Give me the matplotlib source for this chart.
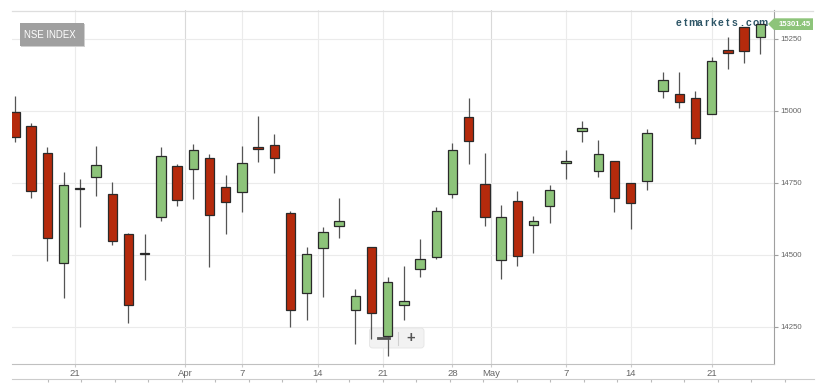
import numpy as np
import matplotlib
matplotlib.use("Agg")
import matplotlib.pyplot as plt
from matplotlib.patches import FancyBboxPatch, Polygon, Rectangle
from matplotlib.transforms import IdentityTransform

plt.rcParams['font.family'] = ['Liberation Sans', 'DejaVu Sans']

### NSE index daily candles (Mar 16 - May 26) ###
dates = ['Mar16', 'Mar17', 'Mar18', 'Mar19', 'Mar22', 'Mar23', 'Mar24', 'Mar25', 'Mar26', 'Mar30',
         'Mar31', 'Apr01', 'Apr05', 'Apr06', 'Apr07', 'Apr08', 'Apr09', 'Apr12', 'Apr13', 'Apr15',
         'Apr16', 'Apr19', 'Apr20', 'Apr22', 'Apr23', 'Apr26', 'Apr27', 'Apr28', 'Apr29', 'Apr30',
         'May03', 'May04', 'May05', 'May06', 'May07', 'May10', 'May11', 'May12', 'May14', 'May17',
         'May18', 'May19', 'May20', 'May21', 'May24', 'May25', 'May26']
opens = [14995, 14947, 14855, 14471, 14729, 14770, 14713, 14572, 14502, 14631,
         14810, 14800, 14838, 14735, 14719, 14874, 14882, 14645, 14367, 14524,
         14600, 14308, 14527, 14219, 14328, 14450, 14494, 14711, 14979, 14746,
         14482, 14688, 14605, 14669, 14818, 14931, 14791, 14825, 14749, 14758,
         15070, 15059, 15044, 14989, 15211, 15291, 15258]
highs = [15052, 14957, 14874, 14787, 14763, 14878, 14752, 14575, 14573, 14876,
         14816, 14884, 14850, 14778, 14878, 14984, 14919, 14652, 14528, 14597,
         14698, 14381, 14529, 14424, 14461, 14557, 14667, 14890, 15044, 14855,
         14674, 14722, 14636, 14743, 14864, 14966, 14899, 14825, 14749, 14938,
         15137, 15134, 15070, 15189, 15256, 15291, 15302]
lows = [14891, 14697, 14479, 14350, 14598, 14706, 14535, 14263, 14413, 14618,
        14671, 14693, 14459, 14574, 14649, 14822, 14786, 14249, 14274, 14353,
        14560, 14191, 14207, 14150, 14274, 14423, 14485, 14697, 14816, 14602,
        14417, 14463, 14507, 14612, 14765, 14893, 14771, 14648, 14591, 14726,
        15044, 15009, 14884, 14988, 15146, 15166, 15197]
closes = [14911, 14722, 14558, 14743, 14734, 14812, 14550, 14327, 14507, 14843,
          14691, 14866, 14638, 14685, 14818, 14868, 14836, 14310, 14505, 14579,
          14619, 14357, 14298, 14405, 14341, 14485, 14652, 14864, 14897, 14633,
          14633, 14497, 14618, 14725, 14826, 14940, 14850, 14697, 14680, 14925,
          15108, 15032, 14907, 15174, 15200, 15209, 15301.45]

tick_pos = [3.7, 10.5, 14, 18.7, 22.7, 27, 29.4, 34, 38, 43]
tick_labels = ['21', 'Apr', '7', '14', '21', '28', 'May', '7', '14', '21']
y_ticks = [14250, 14500, 14750, 15000, 15250]

W, H = 838, 383
up_color = '#8dc47a'
down_color = '#b52a0c'

fig = plt.figure(figsize=(W / 100, H / 100), dpi=100)
fig.patch.set_facecolor('white')
ax = fig.add_axes([12 / W, (H - 364) / H, (774 - 12) / W, (364 - 10.2) / H])

x = np.arange(len(dates))
o = np.array(opens, dtype=float)
c = np.array(closes, dtype=float)
colors = [up_color if cc >= oo else down_color for oo, cc in zip(o, c)]

# wicks then bodies
ax.vlines(x, lows, highs, color='#555555', lw=0.9, zorder=2)
ax.bar(x, np.maximum(np.abs(c - o), 1.5), bottom=np.minimum(o, c), width=0.58,
       color=colors, edgecolor='#2a2a2a', linewidth=0.9, zorder=3)

ax.set_xlim(-0.185, 46.85)
ax.set_ylim(14121.5, 15350)

# axes styling
for s in ['left', 'top']:
    ax.spines[s].set_visible(False)
ax.spines['bottom'].set_color('#c0c0c0')
ax.spines['right'].set_color('#a0a0a0')
ax.yaxis.tick_right()
ax.set_yticks(y_ticks)
ax.tick_params(axis='y', length=3, width=0.8, color='#a0a0a0', labelsize=5.6,
               labelcolor='#666666', pad=1.5)
ax.set_xticks(tick_pos, tick_labels)
ax.tick_params(axis='x', length=2.2, width=0.8, color='#cccccc', labelsize=6.8,
               labelcolor='#666666', pad=1.5)
ax.grid(True, color='#ebebeb', lw=0.8, zorder=0)
ax.set_axisbelow(True)
for gl, lab in zip(ax.xaxis.get_gridlines(), tick_labels):
    if lab in ('Apr', 'May'):
        gl.set_color('#d9d9d9')

ident = IdentityTransform()

# top border line
fig.add_artist(plt.Line2D([12, 813], [H - 10.5, H - 10.5], color='#dedede', lw=0.9, transform=ident))

# navigator strip at the bottom
nav = fig.add_axes([12 / W, 0, (814 - 12) / W, 4 / H])
nav.set_xlim(0, 802)
nav.set_ylim(0, 1)
for s in ['left', 'right', 'bottom']:
    nav.spines[s].set_visible(False)
nav.spines['top'].set_color('#cccccc')
nav.xaxis.tick_top()
nav.set_xticks(np.arange(35.7, 802, 33.5))
nav.tick_params(axis='x', direction='in', length=2.5, color='#bbbbbb', labeltop=False)
nav.set_yticks([])
nav.patch.set_alpha(0)

# zoom buttons
btn = FancyBboxPatch((369.5, H - 348), 54.5, 20, boxstyle='round,pad=0,rounding_size=3',
                     facecolor='#f2f2f2', edgecolor='#e4e4e4', lw=0.6, transform=ident, zorder=1.5)
ax.add_patch(btn)
ax.add_artist(plt.Line2D([398.3, 398.3], [H - 344.5, H - 331.5], color='#d0d0d0', lw=0.8,
                         transform=ident, zorder=1.6))
ax.add_artist(plt.Line2D([377.5, 388.5], [H - 338.3, H - 338.3], color='#555555', lw=2.0,
                         transform=ident, zorder=2.5))
ax.text(411, H - 338, '+', transform=ident, ha='center', va='center', fontsize=10.5,
        fontweight='bold', color='#555555', zorder=2.5)

# NSE INDEX label
fig.add_artist(Rectangle((21, H - 47), 64, 23, facecolor='#cfcfcf', edgecolor='none', transform=ident))
fig.add_artist(Rectangle((20, H - 46), 64, 23, facecolor='#a0a0a0', edgecolor='none', transform=ident))
fig.text(50, H - 35, 'NSE INDEX', transform=ident, ha='center', va='center', fontsize=6.9,
         color='white')

# watermark (drawn under the candles)
for i, ch in enumerate('etmarkets.com'):
    ax.text(678.5 + i * 7.0, H - 23.3, ch, transform=ident, ha='center', va='center',
            fontsize=7.4, fontweight='bold', color='#2d5566', zorder=1.8)

# last price flag
flag = Polygon([(768, H - 24), (774, H - 18.3), (813, H - 18.3), (813, H - 30), (774, H - 30)],
               closed=True, facecolor=up_color, edgecolor='none', transform=ident)
fig.add_artist(flag)
fig.text(794.5, H - 24.2, '%.2f' % closes[-1], transform=ident, ha='center', va='center',
         fontsize=5.6, color='white', fontweight='bold')

fig.savefig('out.png', dpi=100)
